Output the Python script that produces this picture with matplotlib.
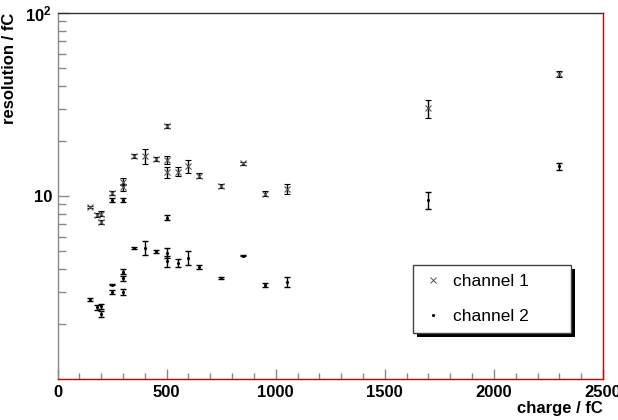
import matplotlib
matplotlib.use("Agg")
import matplotlib.pyplot as plt
from matplotlib.lines import Line2D
from matplotlib.patches import Rectangle
from matplotlib.ticker import FixedLocator, MultipleLocator, NullFormatter, FixedFormatter
import numpy as np

plt.rcParams['font.family'] = ['Liberation Sans', 'DejaVu Sans']
plt.rcParams['mathtext.fontset'] = 'custom'
plt.rcParams['mathtext.bf'] = 'Liberation Sans:bold'
plt.rcParams['mathtext.rm'] = 'Liberation Sans'

# ---- data ----
ch1_charge = [150, 180, 200, 200, 250, 300, 300, 350, 400, 450, 500, 500, 500,
              550, 600, 650, 750, 850, 950, 1050, 1700, 2300]
ch1_res = [8.7, 7.9, 8.0, 7.2, 10.4, 12.0, 11.2, 16.5, 16.5, 15.9, 24.1, 15.8, 13.5,
           13.6, 14.6, 12.9, 11.3, 15.1, 10.3, 10.9, 30.1, 46.4]
ch1_err = [0.15, 0.2, 0.25, 0.2, 0.25, 0.5, 0.5, 0.4, 1.5, 0.4, 0.6, 0.8, 0.9,
           0.8, 1.2, 0.4, 0.3, 0.3, 0.3, 0.7, 3.3, 1.8]

ch2_charge = [150, 180, 200, 200, 250, 250, 300, 300, 300, 350, 400, 450, 500, 500,
              550, 600, 650, 750, 850, 950, 1050, 250, 300, 500, 1700, 2300]
ch2_res = [2.72, 2.46, 2.50, 2.27, 3.28, 3.0, 3.85, 3.55, 3.0, 5.2, 5.2, 5.0, 4.9, 4.4,
           4.3, 4.6, 4.1, 3.57, 4.72, 3.25, 3.4, 9.5, 9.5, 7.6, 9.5, 14.5]
ch2_err = [0.04, 0.08, 0.08, 0.08, 0.03, 0.08, 0.12, 0.12, 0.12, 0.08, 0.45, 0.1, 0.3, 0.3,
           0.2, 0.4, 0.1, 0.05, 0.03, 0.08, 0.2, 0.2, 0.25, 0.25, 1.0, 0.7]

labels = ["channel 1", "channel 2"]
xlabel = "charge / fC"
ylabel = "resolution / fC"

fig = plt.figure(figsize=(6.18, 4.20), dpi=100)
ax = fig.add_axes([57.5/618, 1-379/420, (603-57.5)/618, (379-13)/420])

ax.errorbar(ch1_charge, ch1_res, yerr=ch1_err, fmt='x', ms=4, mew=0.8,
            mec='#555555', color='#555555', ecolor='black', elinewidth=1,
            capsize=2, capthick=1, zorder=3)
ax.errorbar(ch2_charge, ch2_res, yerr=ch2_err, fmt='.', ms=2.5,
            color='black', ecolor='black', elinewidth=1,
            capsize=2, capthick=1, zorder=3)

ax.set_yscale('log')
ax.set_xlim(0, 2500)
ax.set_ylim(1, 100)

ax.xaxis.set_major_locator(FixedLocator([0, 500, 1000, 1500, 2000, 2500]))
ax.xaxis.set_minor_locator(MultipleLocator(100))
ax.yaxis.set_major_locator(FixedLocator([10, 100]))
ax.yaxis.set_major_formatter(FixedFormatter(['10', r'$\mathbf{10^{2}}$']))
ax.yaxis.set_minor_locator(FixedLocator([2, 3, 4, 5, 6, 7, 8, 9, 20, 30, 40, 50, 60, 70, 80, 90]))
ax.yaxis.set_minor_formatter(NullFormatter())

ax.tick_params(axis='both', which='both', direction='in', color='#888888', width=1)
ax.tick_params(axis='x', which='major', length=7.2, pad=4, labelsize=12)
ax.tick_params(axis='x', which='minor', length=4.3)
ax.tick_params(axis='y', which='major', length=7.9, pad=4, labelsize=12)
ax.tick_params(axis='y', which='minor', length=5.8)
for lab in ax.get_xticklabels() + ax.get_yticklabels():
    lab.set_fontweight('bold')

ax.spines['left'].set_color('#888888')
ax.spines['top'].set_color('#333333')
ax.spines['right'].set_color('#cc0000')
ax.spines['bottom'].set_color('#cc0000')
for s in ax.spines.values():
    s.set_linewidth(1)

ax.set_xlabel(xlabel, fontsize=12, fontweight='bold', loc='right', labelpad=1)
ax.set_ylabel(ylabel, fontsize=12, fontweight='bold', loc='top')
ax.yaxis.set_label_coords((17 - 57.5) / 545.5, 1.0)

handles = [Line2D([], [], ls='none', marker='x', ms=4, mew=0.7, color='#555555'),
           Line2D([], [], ls='none', marker='.', ms=2.5, color='black')]
fs = 12.5
leg = fig.legend(handles, labels, loc='upper left', mode='expand',
                 bbox_to_anchor=(413/618, 1-265/420 - 0.01, (571-413)/618, 0.01),
                 bbox_transform=fig.transFigure, borderaxespad=0,
                 fontsize=fs, frameon=True, fancybox=False, framealpha=1,
                 edgecolor='#444444', handlelength=1.27, handletextpad=0.52,
                 borderpad=0.52, labelspacing=1.15)
leg.get_frame().set_linewidth(1)
leg.set_zorder(5)

fig.canvas.draw()
bb = leg.get_window_extent()
off = 4
shadow = Rectangle((bb.x0 + off, bb.y0 - off), bb.width, bb.height,
                   transform=None, facecolor='black', edgecolor='none', zorder=4)
fig.add_artist(shadow)

fig.savefig('out.png', dpi=100)
